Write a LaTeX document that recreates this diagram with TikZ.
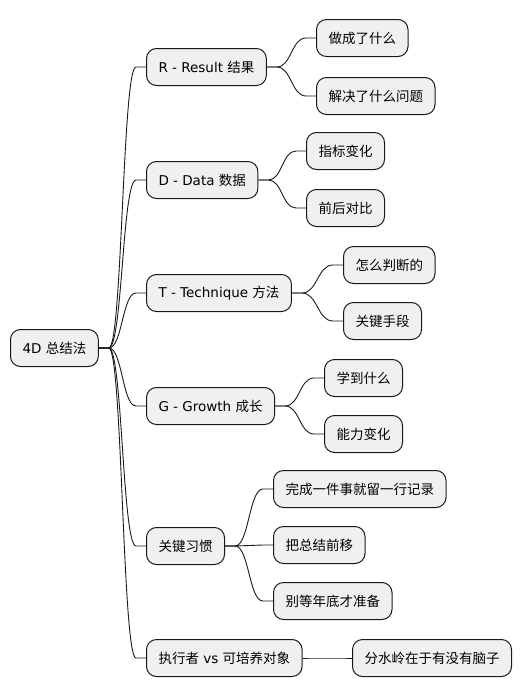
\documentclass[tikz,border=0pt]{standalone}
\usepackage{fontspec}
\usetikzlibrary{calc}
\setmainfont{DejaVu Sans}
\newfontfamily\cjk{Noto Sans CJK SC}
\begin{document}
\begin{tikzpicture}[x=1pt,y=-1pt,
  mm/.style={draw=black!90, fill=black!6, line width=1pt, rounded corners=10pt,
    minimum height=37pt, inner xsep=12pt, anchor=west,
    font=\fontsize{13.5}{15}\selectfont},
  conn/.style={draw=black!90, line width=0.9pt}]
\useasboundingbox (0,0) rectangle (523,696);
\newcommand{\branch}[2]{%
  \path (#1.east) coordinate (pa) (#2.west) coordinate (ch);
  \draw[conn] let \p1=(pa), \p2=(ch), \n1={(\x1+\x2)/2} in
    (pa) -- ($(pa)+(10pt,0pt)$) .. controls (\n1,\y1) and (\n1,\y2) .. ($(ch)+(-10pt,0pt)$) -- (ch);}
\node[mm] (root) at (10,348) {4D {\cjk 总结法}};
\node[mm] (r) at (146,67) {R - Result {\cjk 结果}};
\node[mm] (d) at (146,180) {D - Data {\cjk 数据}};
\node[mm] (t) at (146,293) {T - Technique {\cjk 方法}};
\node[mm] (g) at (146,406) {G - Growth {\cjk 成长}};
\node[mm] (h) at (146,546) {\cjk 关键习惯};
\node[mm] (e) at (146,658) {{\cjk 执行者} vs {\cjk 可培养对象}};
\node[mm] (r1) at (316,38) {\cjk 做成了什么};
\node[mm] (r2) at (316,96) {\cjk 解决了什么问题};
\node[mm] (d1) at (306,151) {\cjk 指标变化};
\node[mm] (d2) at (306,208) {\cjk 前后对比};
\node[mm] (t1) at (343,265) {\cjk 怎么判断的};
\node[mm] (t2) at (343,321) {\cjk 关键手段};
\node[mm] (g1) at (324,378) {\cjk 学到什么};
\node[mm] (g2) at (324,434) {\cjk 能力变化};
\node[mm] (h1) at (273,489) {\cjk 完成一件事就留一行记录};
\node[mm] (h2) at (273,545) {\cjk 把总结前移};
\node[mm] (h3) at (273,601) {\cjk 别等年底才准备};
\node[mm] (e1) at (352,658) {\cjk 分水岭在于有没有脑子};
\branch{root}{r}
\branch{root}{d}
\branch{root}{t}
\branch{root}{g}
\branch{root}{h}
\branch{root}{e}
\branch{r}{r1}
\branch{r}{r2}
\branch{d}{d1}
\branch{d}{d2}
\branch{t}{t1}
\branch{t}{t2}
\branch{g}{g1}
\branch{g}{g2}
\branch{h}{h1}
\branch{h}{h2}
\branch{h}{h3}
\branch{e}{e1}
\end{tikzpicture}
\end{document}
